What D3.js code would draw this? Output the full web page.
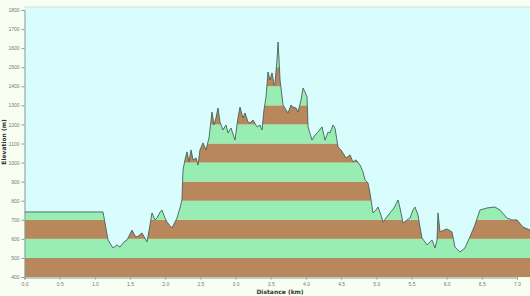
<!DOCTYPE html>
<html><head><meta charset="utf-8">
<script src="https://cdn.jsdelivr.net/npm/d3@7"></script>
<style>body{margin:0;background:#f8fff2;}svg{display:block;font-family:"DejaVu Sans",sans-serif;}</style>
</head><body>
<svg id="c" width="530" height="296"></svg>
<script>
const distKm = [0,1.116,1.144,1.187,1.258,1.314,1.357,1.414,1.457,1.528,1.571,1.599,1.670,1.741,1.784,1.812,1.855,1.883,1.926,1.954,1.997,2.025,2.096,2.139,2.167,2.210,2.238,2.253,2.281,2.310,2.338,2.367,2.395,2.438,2.466,2.494,2.537,2.580,2.622,2.665,2.693,2.722,2.750,2.778,2.821,2.864,2.892,2.935,2.992,3.034,3.063,3.105,3.134,3.176,3.205,3.248,3.305,3.347,3.376,3.404,3.433,3.461,3.490,3.518,3.547,3.561,3.589,3.604,3.618,3.632,3.675,3.717,3.746,3.788,3.817,3.859,3.888,3.930,3.959,3.987,4.016,4.030,4.087,4.129,4.172,4.229,4.271,4.314,4.342,4.385,4.413,4.456,4.498,4.527,4.570,4.627,4.669,4.712,4.769,4.811,4.840,4.882,4.911,4.953,4.996,5.024,5.067,5.096,5.138,5.195,5.252,5.309,5.337,5.380,5.437,5.479,5.522,5.550,5.593,5.621,5.650,5.721,5.792,5.835,5.863,5.877,5.906,5.962,6.005,6.076,6.118,6.189,6.260,6.331,6.402,6.473,6.573,6.687,6.758,6.857,6.928,7.0,7.085,7.185,7.3];
const elevM = [741,741,683,594,552,568,557,584,594,646,615,610,631,584,673,736,699,709,741,751,709,688,657,688,709,762,804,961,1014,1056,1003,1066,1014,1024,987,1066,1103,1066,1129,1265,1197,1234,1286,1213,1171,1197,1155,1181,1118,1234,1291,1234,1260,1213,1208,1223,1187,1197,1171,1276,1344,1475,1433,1470,1407,1417,1538,1632,1538,1433,1302,1276,1260,1302,1291,1286,1265,1328,1391,1370,1344,1187,1118,1144,1160,1187,1118,1160,1155,1197,1181,1082,1066,1050,1024,1040,1003,1014,987,951,909,893,840,736,751,767,725,688,709,736,762,804,762,683,699,709,751,767,725,662,605,568,594,552,594,736,636,646,652,636,557,531,552,610,673,751,762,767,751,709,699,699,662,646,630];
const yTicks = d3.range(400, 1801, 100);
const xTicks = d3.range(0, 7.01, 0.5);
const bandColors = ["#b8875b", "#97edb2"];

(function(){
const svg = d3.select("#c");
const x = d3.scaleLinear().domain([0, 7]).range([24.5, 517]);
const y = d3.scaleLinear().domain([400, 1800]).range([277, 10]);
const pL = 24.5, pR = 540, pT = 7, pB = 277.5;

svg.append("rect").attr("x", pL).attr("y", pT).attr("width", pR-pL).attr("height", pB-pT).attr("fill", "#d9fcfc");

const n = Math.min(distKm.length, elevM.length);
const pts = d3.range(n).map(i=>[distKm[i], elevM[i]]);
const area = d3.area().x(d=>x(d[0])).y0(y(400)).y1(d=>y(d[1]));
const line = d3.line().x(d=>x(d[0])).y(d=>y(d[1]));

svg.append("clipPath").attr("id","ac").append("path").attr("d", area(pts));
const bands = svg.append("g").attr("clip-path","url(#ac)");
d3.range(400, 1800, 100).forEach((b,i)=>{
  bands.append("rect").attr("x", pL).attr("width", pR-pL)
    .attr("y", y(b+100)).attr("height", y(b)-y(b+100))
    .attr("fill", bandColors[i%2]);
});
svg.append("path").attr("d", line(pts)).attr("fill","none").attr("stroke","#44625a").attr("stroke-width",0.9);

svg.append("line").attr("x1",pL).attr("x2",530).attr("y1",pT).attr("y2",pT).attr("stroke","#cfdcdc").attr("stroke-width",1);

const ya = svg.append("g").attr("transform",`translate(${pL},0)`)
  .call(d3.axisLeft(y).tickValues(yTicks).tickSize(3).tickPadding(2).tickFormat(d3.format("d")));
const xa = svg.append("g").attr("transform",`translate(0,${pB})`)
  .call(d3.axisBottom(x).tickValues(xTicks).tickSize(2).tickPadding(3).tickFormat(d3.format(".1f")));
[ya, xa].forEach(a=>{
  a.select(".domain").attr("stroke","#8a9a9a");
  a.selectAll(".tick line").attr("stroke","#8a9a9a");
  a.selectAll("text").attr("fill","#777").style("font-size","5px");
});

svg.append("text").attr("transform","translate(6,142) rotate(-90)").attr("text-anchor","middle")
  .style("font-size","6px").style("font-weight","bold").attr("fill","#333").text("Elevation (m)");
svg.append("text").attr("x",280).attr("y",294).attr("text-anchor","middle")
  .style("font-size","6px").style("font-weight","bold").attr("fill","#333").text("Distance (km)");
})();
</script>
</body></html>
